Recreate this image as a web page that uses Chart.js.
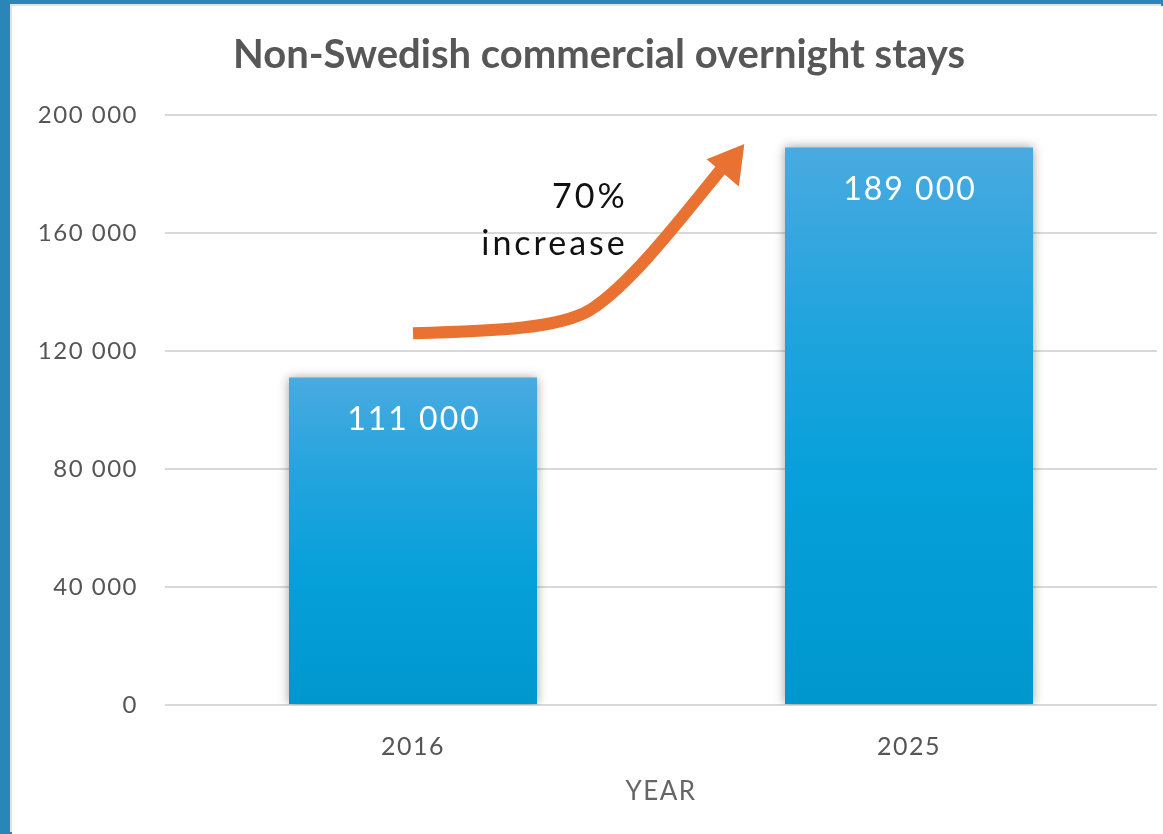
<!DOCTYPE html>
<html lang="en">
<head>
    <meta charset="UTF-8">
    <title>Non-Swedish commercial overnight stays</title>
    <script src="https://cdn.jsdelivr.net/npm/chart.js"></script>
    <style>
        html, body {
            margin: 0;
            padding: 0;
            width: 1163px;
            height: 834px;
            overflow: hidden;
            background: #2a86b8;
        }

        #panel {
            position: absolute;
            left: 12px;
            top: 6px;
            width: 1151px;
            height: 828px;
            background: #fff;
            box-shadow: -2px -2px 0 #e2e2e2;
        }
    </style>
</head>
<body>

<div id="panel"><canvas id="staysChart" width="1151" height="828"></canvas></div>

<script>
    // data
    var years = ['2016', '2025'];
    var stays = [111000, 189000];
    var yTicks = [0, 40000, 80000, 120000, 160000, 200000];
    var chartTitle = 'Non-Swedish commercial overnight stays';

    // orange arrow, in scale units (category index, value)
    var arrowShaft = [[0, 126000], [0.175, 126800], [0.296, 127800], [0.357, 133900],
                      [0.4375, 142400], [0.538, 164400], [0.623, 182000]];
    var arrowHead = [[0.668, 190200], [0.592, 185000], [0.657, 175800]];
    var noteLines = [['70%', 172200], ['increase', 156300]];
    var noteX = 0.427;

    function spaced(v) {
        return String(v).replace(/\B(?=(\d{3})+(?!\d))/g, ' ');
    }

    var barShadow = {
        id: 'barShadow',
        beforeDraw: function (chart) {
            // wider tracking for axis text, like the original
            chart.ctx.letterSpacing = '1.5px';
        },
        beforeDatasetsDraw: function (chart) {
            var ctx = chart.ctx;
            ctx.save();
            ctx.shadowColor = 'rgba(0, 0, 0, 0.38)';
            ctx.shadowBlur = 10;
            ctx.shadowOffsetX = 0;
            ctx.shadowOffsetY = 0;
        },
        afterDatasetsDraw: function (chart) {
            chart.ctx.restore();
        }
    };

    var extras = {
        id: 'extras',
        afterDraw: function (chart) {
            var ctx = chart.ctx;
            var xs = chart.scales.x, ys = chart.scales.y;
            var px = function (p) { return [xs.getPixelForValue(p[0]), ys.getPixelForValue(p[1])]; };

            ctx.save();

            // title
            ctx.letterSpacing = '0px';
            ctx.fillStyle = '#575757';
            ctx.font = 'bold 40px Lato';
            ctx.textAlign = 'center';
            ctx.textBaseline = 'middle';
            ctx.fillText(chartTitle, 587, 49);

            // value labels inside bars
            var meta = chart.getDatasetMeta(0);
            ctx.letterSpacing = '2px';
            ctx.fillStyle = '#ffffff';
            ctx.font = '32px Lato';
            meta.data.forEach(function (bar, i) {
                ctx.fillText(spaced(stays[i]), bar.x + 1, bar.y + 42);
            });

            // arrow
            var s = arrowShaft.map(px);
            ctx.strokeStyle = '#e97132';
            ctx.fillStyle = '#e97132';
            ctx.lineWidth = 12;
            ctx.lineCap = 'butt';
            ctx.beginPath();
            ctx.moveTo(s[0][0], s[0][1]);
            ctx.bezierCurveTo(s[1][0], s[1][1], s[2][0], s[2][1], s[3][0], s[3][1]);
            ctx.bezierCurveTo(s[4][0], s[4][1], s[5][0], s[5][1], s[6][0], s[6][1]);
            ctx.stroke();
            var h = arrowHead.map(px);
            ctx.beginPath();
            ctx.moveTo(h[0][0], h[0][1]);
            ctx.lineTo(h[1][0], h[1][1]);
            ctx.lineTo(h[2][0], h[2][1]);
            ctx.closePath();
            ctx.fill();

            // note
            ctx.letterSpacing = '3px';
            ctx.fillStyle = '#111111';
            ctx.font = '34px Lato';
            ctx.textAlign = 'right';
            noteLines.forEach(function (n) {
                ctx.fillText(n[0], xs.getPixelForValue(noteX) + 3, ys.getPixelForValue(n[1]));
            });
            ctx.restore();
        }
    };

    var ctx = document.getElementById('staysChart').getContext('2d');
    var staysChart = new Chart(ctx, {
        type: 'bar',
        data: {
            labels: years,
            datasets: [{
                label: 'Overnight stays',
                data: stays,
                barPercentage: 0.5,
                categoryPercentage: 1,
                borderWidth: 0,
                backgroundColor: function (c) {
                    var chart = c.chart;
                    if (!chart.chartArea || c.dataIndex === undefined) return '#0aa0da';
                    var y = chart.scales.y;
                    var top = y.getPixelForValue(stays[c.dataIndex]);
                    var g = chart.ctx.createLinearGradient(0, top, 0, chart.chartArea.bottom);
                    g.addColorStop(0, '#49aae0');
                    g.addColorStop(0.3, '#23a4dd');
                    g.addColorStop(0.6, '#06a0da');
                    g.addColorStop(1, '#0097ce');
                    return g;
                }
            }]
        },
        options: {
            responsive: false,
            animation: false,
            layout: {
                padding: { left: 23, right: 6, top: 109, bottom: 0 }
            },
            plugins: {
                legend: { display: false },
                tooltip: { enabled: false },
                title: { display: false }
            },
            scales: {
                x: {
                    grid: { display: false, drawTicks: false },
                    border: { display: false },
                    ticks: {
                        color: '#555555',
                        font: { family: 'Lato', size: 25 },
                        padding: 27
                    },
                    title: {
                        display: true,
                        text: 'YEAR',
                        color: '#666666',
                        font: { family: 'Lato', size: 26 },
                        padding: { top: 0, bottom: 27 }
                    },
                    afterFit: function (scale) { scale.height = 129; }
                },
                y: {
                    min: 0,
                    max: 200000,
                    afterBuildTicks: function (scale) {
                        scale.ticks = yTicks.map(function (v) { return { value: v }; });
                    },
                    grid: { color: '#d9d9d9', lineWidth: 2, drawTicks: false },
                    border: { display: false },
                    ticks: {
                        color: '#555555',
                        font: { family: 'Lato', size: 24 },
                        padding: 27,
                        callback: function (v) { return spaced(v); }
                    },
                    afterFit: function (scale) { scale.width = 130; }
                }
            }
        },
        plugins: [barShadow, extras]
    });
</script>

</body>
</html>
